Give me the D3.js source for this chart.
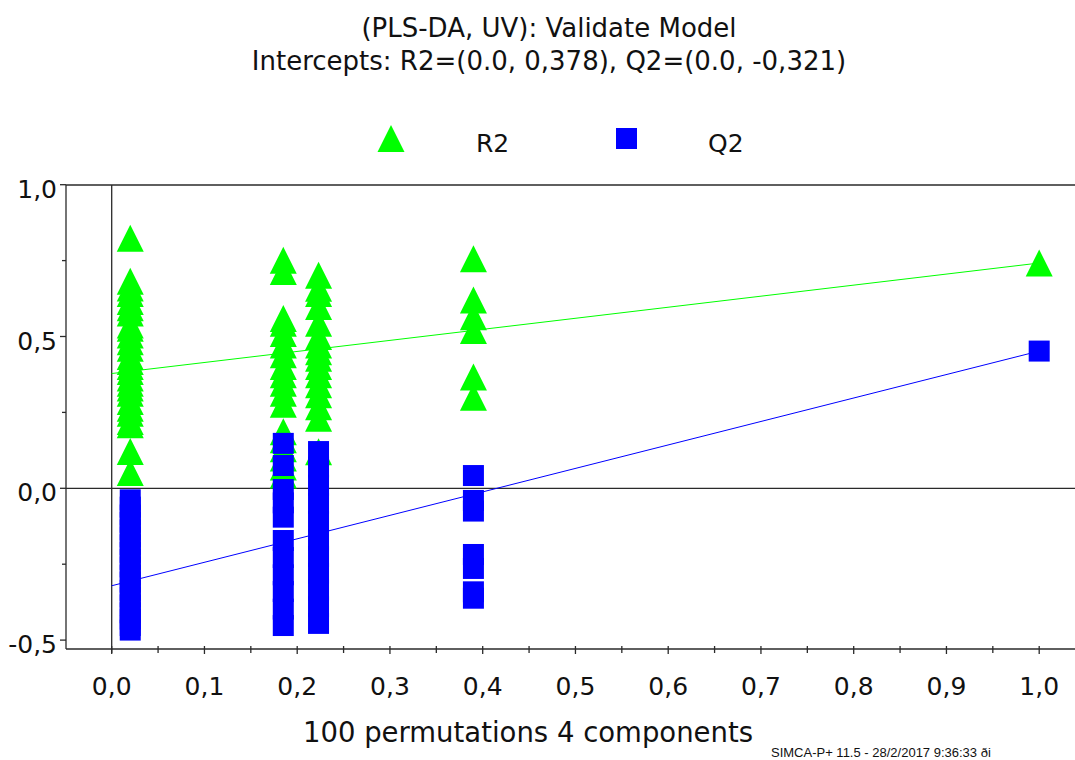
<!DOCTYPE html>
<html>
<head>
<meta charset="utf-8">
<script src="https://cdn.jsdelivr.net/npm/d3@7"></script>
<style>
  html, body { margin: 0; padding: 0; background: #fff; }
  svg { display: block; }
</style>
</head>
<body>
<svg id="chart" width="1075" height="760"></svg>
<script>
// Permutation test: correlation of permuted Y with original Y (x) vs R2 / Q2 (y)
const corrLevels = [0.02, 0.185, 0.223, 0.39];

const r2Perm = [
  [0.824, 0.682, 0.660, 0.642, 0.615, 0.595, 0.577, 0.538, 0.527, 0.505, 0.483, 0.461, 0.434, 0.418,
   0.401, 0.385, 0.363, 0.346, 0.330, 0.313, 0.286, 0.264, 0.247, 0.220, 0.209, 0.121, 0.052],
  [0.751, 0.714, 0.559, 0.544, 0.510, 0.472, 0.440, 0.401, 0.374, 0.346, 0.313, 0.277, 0.186, 0.160,
   0.130, 0.100, 0.070, 0.044],
  [0.702, 0.659, 0.642, 0.599, 0.544, 0.500, 0.472, 0.450, 0.428, 0.401, 0.374, 0.341, 0.308, 0.269,
   0.231, 0.120],
  [0.756, 0.620, 0.565, 0.520, 0.367, 0.300]
];

const q2Perm = [
  [-0.038, -0.062, -0.088, -0.112, -0.137, -0.160, -0.186, -0.211, -0.234, -0.259, -0.286, -0.309,
   -0.336, -0.358, -0.384, -0.410, -0.431, -0.452, -0.467],
  [0.148, 0.075, -0.004, -0.048, -0.095, -0.172, -0.228, -0.285, -0.340, -0.398, -0.452],
  [0.121, 0.070, 0.010, -0.050, -0.110, -0.170, -0.225, -0.280, -0.335, -0.390, -0.445],
  [0.042, -0.040, -0.075, -0.218, -0.264, -0.341, -0.362]
];

// Original (unpermuted) model and regression intercepts
const originalCorr = 1.0;
const originalR2 = 0.742;
const originalQ2 = 0.452;
const interceptR2 = 0.378;
const interceptQ2 = -0.321;

const xTicks = [0, 0.1, 0.2, 0.3, 0.4, 0.5, 0.6, 0.7, 0.8, 0.9, 1.0];
const xMinorTicks = [0.05, 0.15, 0.25, 0.35, 0.45, 0.55, 0.65, 0.75, 0.85, 0.95];
const yTicks = [-0.5, 0, 0.5, 1.0];
const yMinorTicks = [-0.25, 0.25, 0.75];

const titleLines = ["(PLS-DA, UV): Validate Model",
                    "Intercepts: R2=(0.0, 0,378), Q2=(0.0, -0,321)"];
const xTitle = "100 permutations 4 components";
const footer = "SIMCA-P+ 11.5 - 28/2/2017 9:36:33 ði";
const legendItems = ["R2", "Q2"];

const GREEN = "#00ff00", BLUE = "#0000ff", AXIS = "#2a2a2a";
const FONT = "'DejaVu Sans', sans-serif";

const svg = d3.select("#chart");

// Plot frame
const frame = { left: 66, right: 1090, top: 185, bottom: 649 };
const x = d3.scaleLinear().domain([0, 1]).range([111.7, 1039.2]);
const y = d3.scaleLinear().domain([0, 1]).range([488.3, 184.7]);
const fmt = v => d3.format(".1f")(v).replace(".", ",").replace("\u2212", "-");

// Title
svg.append("g").selectAll("text").data(titleLines).join("text")
  .attr("x", 549).attr("y", (d, i) => 37 + i * 33)
  .attr("text-anchor", "middle")
  .attr("font-family", FONT).attr("font-size", 26)
  .attr("fill", "#111")
  .text(d => d);

// Legend
const legend = svg.append("g");
legend.append("path")
  .attr("d", "M391,125 L404.5,152 L377.5,152 Z")
  .attr("fill", GREEN);
legend.append("rect").attr("x", 616).attr("y", 128).attr("width", 21).attr("height", 21).attr("fill", BLUE);
legend.selectAll("text").data(legendItems).join("text")
  .attr("x", (d, i) => [476, 708][i]).attr("y", 152)
  .attr("font-family", FONT).attr("font-size", 25).attr("fill", "#111")
  .text(d => d);

// Axes frame
const axes = svg.append("g").attr("stroke", AXIS).attr("stroke-width", 1.3).attr("fill", "none");
axes.append("line").attr("x1", frame.left).attr("x2", frame.left).attr("y1", frame.top).attr("y2", frame.bottom);
axes.append("line").attr("x1", frame.left).attr("x2", frame.right).attr("y1", frame.top).attr("y2", frame.top);
axes.append("line").attr("x1", frame.left).attr("x2", frame.right).attr("y1", frame.bottom).attr("y2", frame.bottom);
// zero lines
axes.append("line").attr("x1", x(0)).attr("x2", x(0)).attr("y1", frame.top).attr("y2", frame.bottom + 4);
axes.append("line").attr("x1", frame.left).attr("x2", frame.right).attr("y1", y(0)).attr("y2", y(0));

// Y ticks
axes.selectAll(".ymaj").data(yTicks).join("line")
  .attr("x1", frame.left - 6).attr("x2", frame.left).attr("y1", d => y(d)).attr("y2", d => y(d));
axes.selectAll(".ymin").data(yMinorTicks).join("line")
  .attr("x1", frame.left - 4).attr("x2", frame.left).attr("y1", d => y(d)).attr("y2", d => y(d));
// X ticks
axes.selectAll(".xmaj").data(xTicks).join("line")
  .attr("x1", d => x(d)).attr("x2", d => x(d)).attr("y1", frame.bottom - 3).attr("y2", frame.bottom + 5);
axes.selectAll(".xmin").data(xMinorTicks).join("line")
  .attr("x1", d => x(d)).attr("x2", d => x(d)).attr("y1", frame.bottom - 3).attr("y2", frame.bottom + 4);

// Tick labels
svg.append("g").selectAll("text").data(yTicks).join("text")
  .attr("x", 57).attr("y", d => y(d) + 13)
  .attr("text-anchor", "end")
  .attr("font-family", FONT).attr("font-size", 25).attr("fill", "#111")
  .text(fmt);
svg.append("g").selectAll("text").data(xTicks).join("text")
  .attr("x", d => x(d)).attr("y", 695)
  .attr("text-anchor", "middle")
  .attr("font-family", FONT).attr("font-size", 25).attr("fill", "#111")
  .text(fmt);

// Axis title and footer
svg.append("text").attr("x", 528).attr("y", 742).attr("text-anchor", "middle")
  .attr("font-family", FONT).attr("font-size", 27.5).attr("fill", "#111").text(xTitle);
svg.append("text").attr("x", 771).attr("y", 757)
  .attr("font-family", "'Liberation Sans', Arial, sans-serif").attr("font-size", 13).attr("fill", "#111")
  .text(footer);

// Regression lines through intercept and original model
const plot = svg.append("g");
plot.append("line")
  .attr("x1", x(0)).attr("y1", y(interceptR2)).attr("x2", x(originalCorr)).attr("y2", y(originalR2))
  .attr("stroke", GREEN).attr("stroke-width", 1);
plot.append("line")
  .attr("x1", x(0)).attr("y1", y(interceptQ2)).attr("x2", x(originalCorr)).attr("y2", y(originalQ2))
  .attr("stroke", BLUE).attr("stroke-width", 1);

// Flatten points
const r2Points = corrLevels.flatMap((c, i) => r2Perm[i].map(v => ({ c, v })))
  .concat([{ c: originalCorr, v: originalR2 }]);
const q2Points = corrLevels.flatMap((c, i) => q2Perm[i].map(v => ({ c, v })))
  .concat([{ c: originalCorr, v: originalQ2 }]);

const TRI = 27, SQ = 21;
plot.append("g").selectAll("path").data(r2Points).join("path")
  .attr("d", d => {
    const cx = x(d.c), cy = y(d.v), h = TRI / 2;
    return `M${cx},${cy - h} L${cx + h},${cy + h} L${cx - h},${cy + h} Z`;
  })
  .attr("fill", GREEN);

plot.append("g").selectAll("rect").data(q2Points).join("rect")
  .attr("x", d => x(d.c) - SQ / 2).attr("y", d => y(d.v) - SQ / 2)
  .attr("width", SQ).attr("height", SQ)
  .attr("fill", BLUE);
</script>
</body>
</html>
